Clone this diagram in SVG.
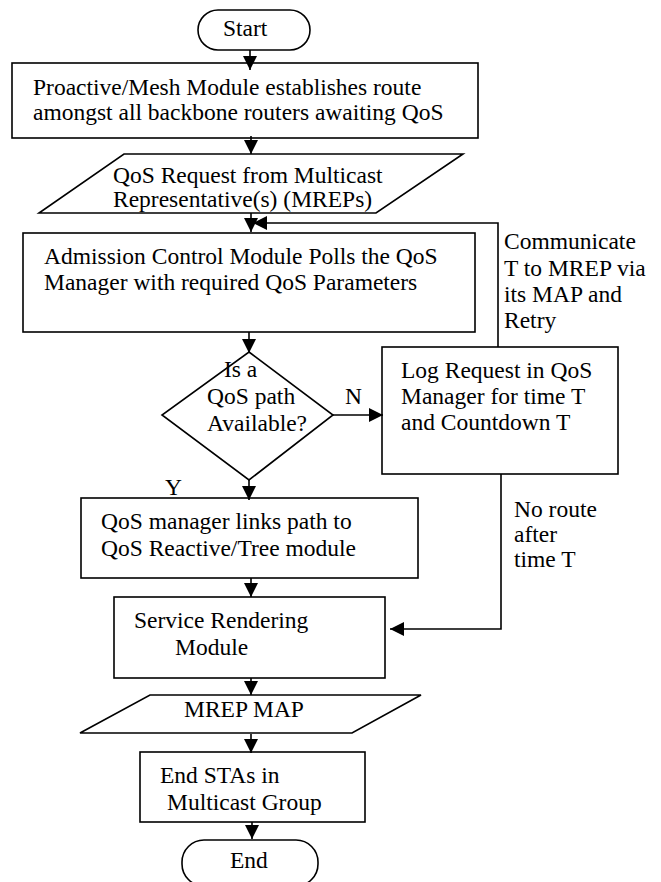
<svg xmlns="http://www.w3.org/2000/svg" width="661" height="882" viewBox="0 0 661 882">
<style>
  .shape { fill: #ffffff; stroke: #000000; stroke-width: 1.6; }
  .line { fill: none; stroke: #000000; stroke-width: 1.6; }
  text { font-family: "Liberation Serif", "Times New Roman", serif; font-size: 23.5px; fill: #000000; }
</style>
<defs>
  <marker id="arrow" markerUnits="userSpaceOnUse" markerWidth="15" markerHeight="15" refX="14" refY="7" orient="auto">
    <path d="M0,0 L14,7 L0,14 Z" fill="#000000"/>
  </marker>
</defs>
<rect width="661" height="882" fill="#ffffff"/>

<g id="start">
  <rect class="shape" x="198" y="10" width="112" height="40" rx="20" ry="20"/>
  <text x="223" y="36">Start</text>
</g>

<g id="proactive">
  <rect class="shape" x="12" y="63" width="466" height="75"/>
  <text x="33" y="95">Proactive/Mesh Module establishes route</text>
  <text x="33" y="120">amongst all backbone routers awaiting QoS</text>
</g>

<g id="qos-request">
  <polygon class="shape" points="124,154 463,154 376,213 39,213"/>
  <text x="113" y="183">QoS Request from Multicast</text>
  <text x="113" y="207">Representative(s) (MREPs)</text>
</g>

<g id="admission">
  <rect class="shape" x="23" y="233" width="452" height="99"/>
  <text x="44" y="264">Admission Control Module Polls the QoS</text>
  <text x="44" y="290">Manager with required QoS Parameters</text>
</g>

<g id="decision">
  <polygon class="shape" points="249,352 333,415 249,480 162,415"/>
  <text x="224" y="377">Is a</text>
  <text x="207" y="404">QoS path</text>
  <text x="207" y="431">Available?</text>
</g>

<g id="log-request">
  <rect class="shape" x="382" y="347" width="236" height="127"/>
  <text x="401" y="378">Log Request in QoS</text>
  <text x="401" y="404">Manager for time T</text>
  <text x="401" y="430">and Countdown T</text>
</g>

<g id="qos-manager">
  <rect class="shape" x="81" y="498" width="337" height="80"/>
  <text x="101" y="529">QoS manager links path to</text>
  <text x="101" y="556">QoS Reactive/Tree module</text>
</g>

<g id="service">
  <rect class="shape" x="114" y="597" width="271" height="81"/>
  <text x="134" y="628">Service Rendering</text>
  <text x="175" y="655">Module</text>
</g>

<g id="mrep-map">
  <polygon class="shape" points="150,695 421,695 352,733 80,733"/>
  <text x="184" y="717">MREP MAP</text>
</g>

<g id="end-stas">
  <rect class="shape" x="140" y="752" width="225" height="70"/>
  <text x="160" y="783">End STAs in</text>
  <text x="167" y="810">Multicast Group</text>
</g>

<g id="end">
  <rect class="shape" x="182" y="840" width="136" height="46" rx="22" ry="22"/>
  <text x="230" y="868">End</text>
</g>

<g id="connectors">
  <line class="line" x1="250" y1="50" x2="250" y2="70" marker-end="url(#arrow)"/>
  <line class="line" x1="251" y1="136" x2="251" y2="154" marker-end="url(#arrow)"/>
  <line class="line" x1="251" y1="213" x2="251" y2="232" marker-end="url(#arrow)"/>
  <polyline class="line" points="498,347 498,223 253,223" marker-end="url(#arrow)"/>
  <line class="line" x1="249" y1="332" x2="249" y2="353" marker-end="url(#arrow)"/>
  <line class="line" x1="333" y1="415" x2="383" y2="415" marker-end="url(#arrow)"/>
  <line class="line" x1="249" y1="480" x2="249" y2="500" marker-end="url(#arrow)"/>
  <line class="line" x1="251" y1="578" x2="251" y2="597" marker-end="url(#arrow)"/>
  <polyline class="line" points="501,474 501,629 390,629" marker-end="url(#arrow)"/>
  <line class="line" x1="251" y1="678" x2="251" y2="695" marker-end="url(#arrow)"/>
  <line class="line" x1="251" y1="734" x2="251" y2="753" marker-end="url(#arrow)"/>
  <line class="line" x1="252" y1="822" x2="252" y2="839" marker-end="url(#arrow)"/>
  <text x="345" y="404">N</text>
  <text x="165" y="495">Y</text>
  <text x="504" y="249">Communicate</text>
  <text x="504" y="276">T to MREP via</text>
  <text x="504" y="302">its MAP and</text>
  <text x="504" y="328">Retry</text>
  <text x="514" y="517">No route</text>
  <text x="514" y="542">after</text>
  <text x="514" y="567">time T</text>
</g>
</svg>
